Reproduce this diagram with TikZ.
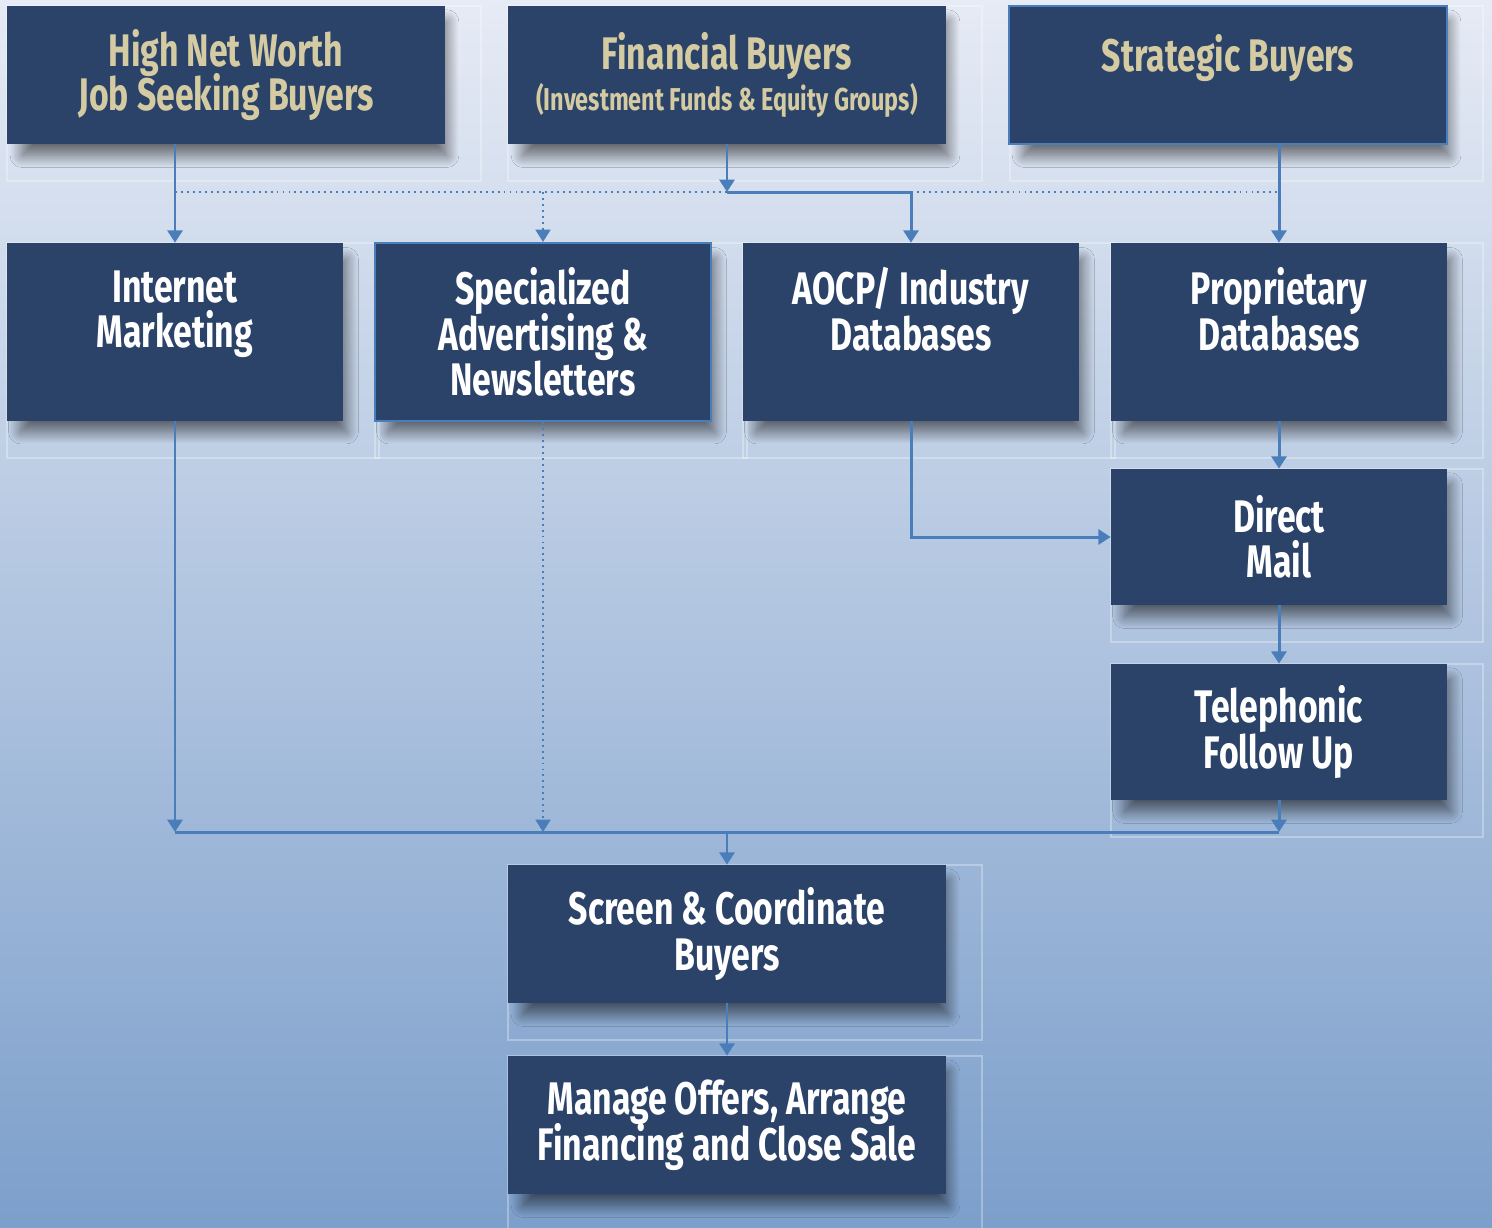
\documentclass[tikz,border=0pt]{standalone}
\usepackage{fontspec}
\newfontfamily\boxfont[FakeStretch=0.74]{Fira Sans}
\newcommand\tightlines{\lineskiplimit=-20pt\relax}
\usetikzlibrary{arrows.meta,shadows.blur}

\definecolor{boxblue}{HTML}{2C4369}
\definecolor{linkblue}{HTML}{4A7EBB}
\definecolor{buyertan}{HTML}{D4CBA3}
\definecolor{bgtop}{HTML}{E6EBF5}
\definecolor{bgmid}{HTML}{B4C6E0}
\definecolor{bgbottom}{HTML}{7C9FCB}

\tikzset{
  stage/.style={fill=boxblue, text=white, align=center, inner sep=0pt,
    font=\boxfont\bfseries\fontsize{26}{26}\selectfont\tightlines,
    blur shadow={shadow xshift=5pt, shadow yshift=-8pt, shadow scale=0.97,
      shadow blur steps=20, shadow blur radius=7pt, shadow opacity=55}},
  buyer/.style={stage, text=buyertan, font=\boxfont\bfseries\fontsize{26}{25}\selectfont\tightlines,
    minimum width=8.76cm, minimum height=2.76cm},
  wide/.style={minimum width=8.76cm, minimum height=2.76cm},
  tall/.style={minimum width=6.72cm, minimum height=3.56cm},
  short/.style={minimum width=6.72cm, minimum height=2.72cm},
  edged/.style={draw=linkblue, line width=1.2pt},
  ghost/.style={white, opacity=0.3, line width=0.6pt},
  bus/.style={linkblue, line width=1.7pt},
  link/.style={bus, -{Triangle[length=7pt,width=8.5pt]}},
  dots/.style={linkblue, line width=1.1pt, dash pattern=on 1.1pt off 2.3pt},
  hint/.style={dots, -{Triangle[length=7pt,width=8.5pt]}},
}

\begin{document}
\begin{tikzpicture}[x=0.02cm, y=-0.02cm]
  \useasboundingbox (0,0) rectangle (1492,1228);

  % backdrop
  \shade[top color=bgtop, middle color=bgmid, bottom color=bgbottom] (0,0) rectangle (1492,1228);

  % faint frames behind the boxes
  \foreach \l/\t/\r/\b in {7/6/445/144, 508/6/946/144, 1010/6/1447/144,
      7/243/343/421, 375/243/711/421, 743/243/1079/421, 1111/243/1447/421,
      1111/469/1447/605, 1111/664/1447/800, 508/865/946/1003, 508/1056/946/1194}
    \draw[ghost] (\l,\t) rectangle (\r+36,\b+37);

  % buyer groups
  \node[buyer] (worth) at (226,75) {High Net Worth\\Job Seeking Buyers};
  \node[buyer] (fund) at (727,75) {Financial Buyers\\[-2pt]{\fontsize{18}{18}\selectfont (Investment Funds \& Equity Groups)}};
  \node[buyer, edged] (strategic) at (1228,75) {Strategic Buyers\\\mbox{}};

  % marketing channels
  \node[stage, tall] (web) at (175,332) {Internet\\Marketing\\\mbox{}};
  \node[stage, tall, edged] (press) at (543,332) {Specialized\\Advertising \&\\Newsletters};
  \node[stage, tall] (lists) at (911,332) {AOCP/ Industry\\Databases\\\mbox{}};
  \node[stage, tall] (owned) at (1279,332) {Proprietary\\Databases\\\mbox{}};
  \node[stage, short] (mail) at (1279,537) {Direct\\Mail};
  \node[stage, short] (phone) at (1279,732) {Telephonic\\Follow Up};

  % closing steps
  \node[stage, wide] (screen) at (727,934) {Screen \& Coordinate\\Buyers};
  \node[stage, wide] (close) at (727,1125) {Manage Offers, Arrange\\Financing and Close Sale};

  \coordinate (split) at (727,192);
  \coordinate (merge) at (727,832);

  % top distribution
  \draw[dots] (split -| web) -- (split);
  \draw[dots] (split -| lists) -- (split -| owned);
  \draw[link] (worth.south -| web) -- (web);
  \draw[link] (fund) -- (split);
  \draw[hint] (split -| press) -- (press);
  \draw[link] (split) -| (lists);
  \draw[link] (strategic.south -| owned) -- (owned);

  % right column
  \draw[link] (owned) -- (mail);
  \draw[link] (lists) |- (mail);
  \draw[link] (mail) -- (phone);

  % bottom collection
  \draw[bus] (merge -| web) -- (merge -| phone);
  \draw[link] (web) -- (merge -| web);
  \draw[hint] (press) -- (merge -| press);
  \draw[link] (phone) -- (merge -| phone);
  \draw[link] (merge) -- (screen);
  \draw[link] (screen) -- (close);
\end{tikzpicture}
\end{document}
